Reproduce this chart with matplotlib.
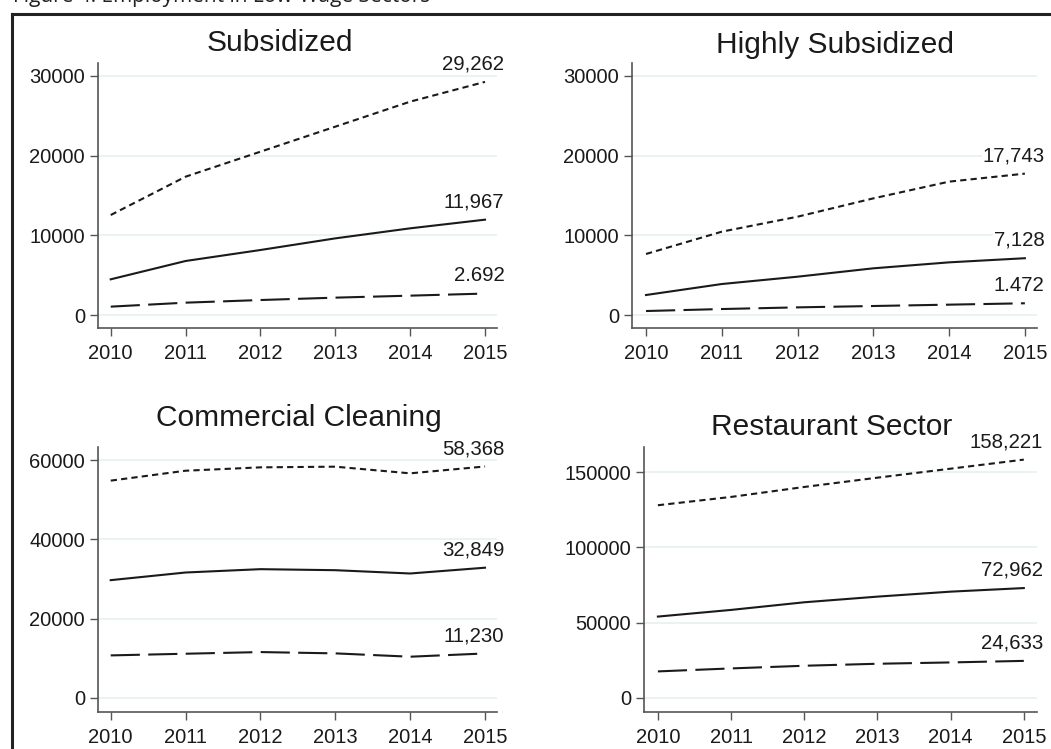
import matplotlib
matplotlib.use('Agg')
import matplotlib.pyplot as plt
from matplotlib.lines import Line2D

plt.rcParams['font.family'] = ['Liberation Sans', 'DejaVu Sans']

# ---- data ----
years = [2010, 2011, 2012, 2013, 2014, 2015]

titles = ['Subsidized', 'Highly Subsidized', 'Commercial Cleaning', 'Restaurant Sector']

# upper series (short dash)
subs_high = [12550, 17360, 20500, 23640, 26780, 29262]
hsubs_high = [7660, 10460, 12340, 14640, 16740, 17743]
clean_high = [54800, 57300, 58150, 58320, 56640, 58368]
rest_high = [127940, 133460, 140070, 146250, 152210, 158221]

# middle series (solid)
subs_mid = [4480, 6780, 8160, 9620, 10880, 11967]
hsubs_mid = [2510, 3890, 4810, 5860, 6610, 7128]
clean_mid = [29710, 31640, 32480, 32220, 31390, 32849]
rest_mid = [54040, 58460, 63530, 67280, 70590, 72962]

# lower series (long dash)
subs_low = [1050, 1550, 1880, 2180, 2430, 2692]
hsubs_low = [500, 750, 960, 1130, 1300, 1472]
clean_low = [10740, 11160, 11580, 11250, 10410, 11230]
rest_low = [17650, 19630, 21400, 22720, 23600, 24633]

# end labels as printed in the source
labels_high = ['29,262', '17,743', '58,368', '158,221']
labels_mid = ['11,967', '7,128', '32,849', '72,962']
labels_low = ['2.692', '1.472', '11,230', '24,633']

yticks = [[0, 10000, 20000, 30000],
          [0, 10000, 20000, 30000],
          [0, 20000, 40000, 60000],
          [0, 50000, 100000, 150000]]

highs = [subs_high, hsubs_high, clean_high, rest_high]
mids = [subs_mid, hsubs_mid, clean_mid, rest_mid]
lows = [subs_low, hsubs_low, clean_low, rest_low]

W, H = 1051, 749
fig = plt.figure(figsize=(W / 100, H / 100), dpi=100)

# axes boxes in pixels: left, right, top, bottom
boxes = [(98, 497, 63, 328), (632, 1037, 63, 328),
         (98, 497, 447, 712), (644, 1037, 447, 712)]
ylims = [(-1630, 31630), (-1630, 31630), (-3530, 63280), (-9300, 166600)]
xlims = [(2009.83, 2015.16), (2009.815, 2015.16),
         (2009.83, 2015.16), (2009.81, 2015.18)]
title_pos = [(280, 43), (835, 45), (299, 418), (832, 427)]

ink = '#1a1a1a'
axis_col = '#555555'

for i in range(4):
    l, r, t, b = boxes[i]
    ax = fig.add_axes([l / W, 1 - b / H, (r - l) / W, (b - t) / H])
    ax.plot(years, highs[i], color=ink, lw=1.5, linestyle=(0, (3, 2)), zorder=3)
    ax.plot(years, mids[i], color=ink, lw=1.5, linestyle='-', zorder=3)
    ax.plot(years, lows[i], color=ink, lw=1.5, linestyle=(0, (14, 4)), zorder=3)

    for vals, lab in [(highs[i], labels_high[i]), (mids[i], labels_mid[i]),
                      (lows[i], labels_low[i])]:
        ax.annotate(lab, (years[-1], vals[-1]), xytext=(14, 6),
                    textcoords='offset points', ha='right', va='bottom',
                    fontsize=14.7, color=ink, zorder=4, annotation_clip=False,
                    bbox=dict(fc='white', ec='none', pad=0.5))

    ax.set_xlim(*xlims[i])
    ax.set_ylim(*ylims[i])
    ax.set_xticks(years)
    ax.set_yticks(yticks[i])
    ax.grid(axis='y', color='#e6f0f2', lw=1.2, zorder=0)
    ax.set_axisbelow(True)
    for s in ['top', 'right']:
        ax.spines[s].set_visible(False)
    for s in ['left', 'bottom']:
        ax.spines[s].set_color(axis_col)
        ax.spines[s].set_linewidth(1.2)
    ax.tick_params(axis='both', length=5.8, width=1, color=axis_col,
                   labelsize=14.5, labelcolor=ink)
    ax.tick_params(axis='y', pad=3.5)
    ax.tick_params(axis='x', pad=5.5)

    tx, ty = title_pos[i]
    fig.text(tx / W, 1 - ty / H, titles[i], ha='center', va='center',
             fontsize=21.5, color=ink)

# outer frame (only left and top edges show in the crop)
fig.add_artist(Line2D([12 / W, 12 / W], [0, 1 - 14 / H], transform=fig.transFigure,
                      color='#222222', lw=2.2))
fig.add_artist(Line2D([12 / W, 1], [1 - 14 / H, 1 - 14 / H], transform=fig.transFigure,
                      color='#222222', lw=2.2))

# figure caption, cut off at the top edge as in the source image
fig.text(13 / W, 1 - 2 / H, 'Figure 4: Employment in Low-Wage Sectors',
         ha='left', va='baseline', fontsize=15, color='#222222',
         family=['Open Sans', 'DejaVu Sans'])

fig.savefig('out.png', dpi=100)
